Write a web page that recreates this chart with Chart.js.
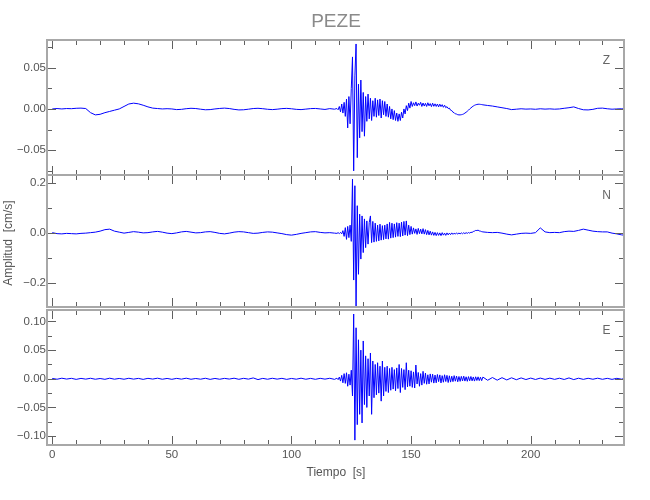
<!DOCTYPE html>
<html>
<head>
<meta charset="utf-8">
<script src="https://cdn.jsdelivr.net/npm/chart.js@4.4.1/dist/chart.umd.min.js"></script>
<style>
body{margin:0;background:#fff}
#fig{position:relative;width:650px;height:500px;overflow:hidden;font-family:'Liberation Sans',Arial,sans-serif}
.caja{position:absolute;left:0;width:650px}
.txt{position:absolute;white-space:pre;color:#555}
</style>
</head>
<body>
<div id="fig">
  <div class="caja" style="top:0px;height:185px"><canvas id="cZ"></canvas></div>
  <div class="caja" style="top:165px;height:152px"><canvas id="cN"></canvas></div>
  <div class="caja" style="top:300px;height:200px"><canvas id="cE"></canvas></div>
  <div class="txt" style="left:236px;top:10px;width:200px;text-align:center;font-size:19px;line-height:22px;color:#8a8a8a">PEZE</div>
  <div class="txt" style="left:-62px;top:235px;width:140px;height:16px;line-height:16px;text-align:center;font-size:12px;transform:rotate(-90deg)">Amplitud  [cm/s]</div>
  <div class="txt" style="left:256px;top:464px;width:160px;line-height:16px;text-align:center;font-size:12px">Tiempo  [s]</div>
</div>
<script>
const tiempo = [
  0,2,4,6,8,10,12,14,16,18,
  20,22,24,26,28,30,32,34,36,38,
  40,42,44,46,48,50,52,54,56,58,
  60,62,64,66,68,70,72,74,76,78,
  80,82,84,86,88,90,92,94,96,98,
  100,102,104,106,108,110,112,114,116,118,
  119,119.5,120,120.5,121,121.5,122,122.5,123,123.5,
  124,124.5,125,125.5,126,126.5,127,127.5,128,128.5,
  129,129.5,130,130.5,131,131.5,132,132.5,133,133.5,
  134,134.5,135,135.5,136,136.5,137,137.5,138,138.5,
  139,139.5,140,140.5,141,141.5,142,142.5,143,143.5,
  144,144.5,145,145.5,146,146.5,147,147.5,148,148.5,
  149,149.5,150,
  150.5,151,151.5,152,152.5,153,153.5,154,154.5,155,
  155.5,156,156.5,157,157.5,158,158.5,159,159.5,160,
  160.5,161,161.5,162,162.5,163,163.5,164,164.5,165,
  165.5,166,166.5,167,167.5,168,168.5,169,169.5,170,
  170.5,171,171.5,172,172.5,173,173.5,174,174.5,175,
  175.5,176,176.5,177,177.5,178,178.5,179,179.5,180,
  182,184,186,188,190,192,194,196,198,200,
  202,204,206,208,210,212,214,216,218,220,
  222,224,226,228,230,232,234,236,238,239
];

const velZ = [
  0.0000,0.0005,0.0000,0.0005,0.0003,0.0008,0.0010,0.0005,-0.0045,-0.0072,
  -0.0065,-0.0045,-0.0030,-0.0015,0.0000,0.0030,0.0060,0.0070,0.0062,0.0045,
  0.0025,0.0010,0.0005,0.0000,0.0003,0.0000,-0.0008,-0.0005,0.0003,0.0008,
  0.0005,-0.0003,-0.0010,-0.0008,0.0000,0.0006,0.0010,0.0005,-0.0005,-0.0012,
  -0.0010,-0.0003,0.0005,0.0008,0.0003,-0.0004,-0.0008,-0.0003,0.0004,0.0007,
  0.0002,-0.0005,-0.0008,-0.0002,0.0004,0.0006,0.0000,-0.0006,0.0004,-0.0003,
  0.0005,-0.0010,0.0030,-0.0035,0.0060,-0.0050,0.0080,-0.0090,0.0120,-0.0230,
  0.0150,-0.0180,0.0250,0.0630,-0.0750,0.0400,0.0787,-0.0590,0.0300,-0.0350,
  0.0350,-0.0275,0.0200,-0.0330,0.0150,-0.0150,0.0180,-0.0120,0.0130,-0.0140,
  0.0100,-0.0090,0.0130,-0.0100,0.0110,-0.0080,0.0120,-0.0110,0.0100,-0.0070,
  0.0090,-0.0090,0.0060,-0.0100,0.0030,-0.0120,0.0000,-0.0130,-0.0020,-0.0140,
  -0.0050,-0.0150,-0.0060,-0.0140,-0.0040,-0.0110,0.0000,-0.0060,0.0040,-0.0020,
  0.0070,0.0010,0.0090,
  0.0030,0.0075,0.0040,0.0085,0.0035,0.0070,0.0045,0.0080,0.0030,0.0072,
  0.0035,0.0068,0.0030,0.0075,0.0038,0.0065,0.0028,0.0070,0.0032,0.0062,
  0.0030,0.0060,0.0025,0.0058,0.0028,0.0052,0.0020,0.0045,0.0015,0.0028,
  0.0005,0.0010,-0.0015,-0.0020,-0.0040,-0.0045,-0.0060,-0.0062,-0.0070,-0.0072,
  -0.0072,-0.0070,-0.0066,-0.0060,-0.0050,-0.0040,-0.0028,-0.0015,0.0000,0.0012,
  0.0025,0.0035,0.0044,0.0050,0.0054,0.0057,0.0057,0.0055,0.0053,0.0050,
  0.0042,0.0035,0.0025,0.0015,0.0005,-0.0008,-0.0003,0.0002,-0.0002,0.0000,
  -0.0004,0.0002,-0.0002,0.0001,-0.0003,0.0000,0.0008,0.0015,0.0025,0.0005,
  -0.0010,-0.0012,-0.0005,0.0008,0.0010,0.0002,-0.0003,0.0000,0.0002,0.0000
];

const velN = [
  0.0000,-0.0040,-0.0050,-0.0030,-0.0040,-0.0050,-0.0030,-0.0020,0.0000,0.0020,
  0.0060,0.0120,0.0140,0.0060,0.0020,-0.0020,0.0010,0.0040,0.0020,-0.0010,
  0.0000,0.0030,0.0050,0.0020,-0.0020,-0.0040,-0.0010,0.0030,0.0050,0.0020,
  -0.0010,0.0000,0.0030,0.0040,0.0010,-0.0030,-0.0050,-0.0020,0.0020,0.0040,
  0.0030,0.0000,-0.0030,-0.0020,0.0010,0.0030,0.0020,-0.0010,-0.0040,-0.0080,
  -0.0100,-0.0070,-0.0030,0.0000,0.0030,0.0040,0.0010,-0.0010,0.0000,-0.0020,
  -0.0030,0.0000,-0.0040,0.0010,-0.0050,0.0080,-0.0150,0.0200,-0.0270,0.0250,
  -0.0200,0.0300,-0.0350,0.2150,-0.1900,0.1880,-0.2980,0.1080,-0.1670,0.0740,
  -0.1060,0.0670,-0.0800,0.0550,-0.0600,0.0470,-0.0460,0.0400,0.0670,-0.0400,
  0.0450,-0.0380,0.0380,-0.0350,0.0300,-0.0330,0.0340,-0.0300,0.0280,-0.0280,
  0.0300,-0.0250,0.0350,-0.0260,0.0410,-0.0220,0.0380,-0.0200,0.0350,-0.0180,
  0.0400,-0.0150,0.0380,-0.0160,0.0420,-0.0130,0.0450,-0.0100,0.0470,-0.0120,
  0.0300,-0.0080,0.0250,
  -0.0060,0.0190,-0.0030,0.0150,-0.0070,0.0170,-0.0040,0.0140,-0.0050,0.0160,
  -0.0060,0.0120,-0.0080,0.0090,-0.0090,0.0060,-0.0100,0.0030,-0.0110,0.0010,
  -0.0120,0.0000,-0.0110,-0.0010,-0.0120,0.0000,-0.0100,-0.0020,-0.0110,-0.0010,
  -0.0090,-0.0020,-0.0080,-0.0010,-0.0070,-0.0020,-0.0060,-0.0010,-0.0055,-0.0015,
  -0.0050,-0.0010,-0.0045,-0.0005,-0.0040,0.0000,-0.0030,0.0005,-0.0020,0.0015,
  0.0010,0.0045,0.0060,0.0090,0.0085,0.0100,0.0070,0.0060,0.0040,0.0030,
  0.0010,0.0000,0.0010,-0.0020,-0.0060,-0.0090,-0.0060,-0.0030,-0.0020,-0.0030,
  0.0000,0.0190,0.0030,0.0000,0.0010,0.0000,0.0040,0.0060,0.0050,0.0090,
  0.0140,0.0100,0.0060,0.0040,0.0030,0.0030,-0.0020,-0.0050,-0.0090,-0.0100
];

const velE = [
  0.0006,-0.0008,0.0010,-0.0005,0.0008,-0.0010,0.0007,-0.0006,0.0009,-0.0008,
  0.0005,-0.0009,0.0010,-0.0007,0.0006,-0.0008,0.0009,-0.0006,0.0007,-0.0010,
  0.0008,-0.0005,0.0010,-0.0008,0.0006,-0.0009,0.0007,-0.0006,0.0010,-0.0008,
  0.0005,-0.0007,0.0009,-0.0010,0.0006,-0.0008,0.0007,-0.0005,0.0010,-0.0009,
  0.0008,-0.0006,0.0015,-0.0014,0.0007,-0.0008,0.0009,-0.0006,0.0008,-0.0010,
  0.0006,-0.0007,0.0010,-0.0008,0.0007,-0.0009,0.0008,-0.0006,0.0009,-0.0010,
  0.0010,-0.0015,0.0030,-0.0040,0.0060,-0.0070,0.0090,-0.0080,0.0105,-0.0130,
  0.0080,-0.0110,0.0150,-0.0300,0.1130,-0.1070,0.0890,-0.0800,0.0680,-0.0620,
  0.0500,-0.0770,0.0660,-0.0450,0.0400,-0.0500,0.0350,-0.0300,0.0450,-0.0620,
  0.0310,-0.0330,0.0250,-0.0280,0.0280,-0.0250,0.0220,-0.0390,0.0310,-0.0300,
  0.0200,-0.0220,0.0220,-0.0240,0.0180,-0.0200,0.0200,-0.0180,0.0160,-0.0210,
  0.0190,-0.0170,0.0250,-0.0240,0.0180,-0.0150,0.0160,-0.0190,0.0280,-0.0140,
  0.0150,-0.0130,0.0140,
  -0.0150,0.0120,-0.0160,0.0240,-0.0090,0.0110,-0.0130,0.0090,-0.0110,0.0130,
  -0.0080,0.0100,-0.0095,0.0070,-0.0090,0.0085,-0.0060,0.0080,-0.0075,0.0065,
  -0.0070,0.0075,-0.0050,0.0068,-0.0072,0.0055,-0.0060,0.0070,-0.0048,0.0060,
  -0.0065,0.0052,-0.0058,0.0045,-0.0050,0.0055,-0.0042,0.0048,-0.0052,0.0040,
  -0.0045,0.0042,-0.0038,0.0046,-0.0040,0.0035,-0.0044,0.0038,-0.0035,0.0040,
  -0.0036,0.0032,-0.0040,0.0035,-0.0030,0.0034,-0.0032,0.0028,-0.0033,0.0030,
  -0.0026,0.0022,-0.0024,0.0019,-0.0020,0.0017,-0.0016,0.0015,-0.0013,0.0012,
  -0.0012,0.0012,-0.0010,0.0011,-0.0010,0.0010,-0.0012,0.0015,-0.0014,0.0010,
  -0.0010,0.0009,-0.0008,0.0010,-0.0009,0.0008,-0.0010,0.0008,-0.0007,0.0005
];

const ticksX = [0, 50, 100, 150, 200];
const ticksZ = [-0.05, 0, 0.05];
const ticksN = [-0.2, 0, 0.2];
const ticksE = [-0.10, -0.05, 0, 0.05, 0.10];

const fuente = "'Liberation Sans', Arial, sans-serif";

// marco con marcas hacia dentro en los cuatro lados + etiqueta de componente
const marco = {
  id: 'marco',
  afterDraw(chart, args, o) {
    const {ctx, chartArea: a, scales: {x, y}} = chart;
    ctx.save();
    ctx.strokeStyle = '#606060';
    ctx.lineWidth = 1;
    ctx.beginPath();
    for (let v = 0; v <= 230; v += 10) {
      const px = Math.round(x.getPixelForValue(v)) + 0.5;
      const l = v % 50 === 0 ? 9 : 5;
      ctx.moveTo(px, a.top); ctx.lineTo(px, a.top + l);
      ctx.moveTo(px, a.bottom); ctx.lineTo(px, a.bottom - l);
    }
    const paso = o.menor;
    for (let k = Math.ceil(y.min / paso - 1e-6); k * paso <= y.max + 1e-9; k++) {
      const v = k * paso;
      const py = Math.round(y.getPixelForValue(v)) + 0.5;
      const l = k % 2 === 0 ? 9 : 5;
      ctx.moveTo(a.left, py); ctx.lineTo(a.left + l, py);
      ctx.moveTo(a.right, py); ctx.lineTo(a.right - l, py);
    }
    ctx.stroke();
    ctx.strokeStyle = '#a8a8a8';
    ctx.lineWidth = 2;
    ctx.strokeRect(a.left, a.top, a.right - a.left, a.bottom - a.top);
    ctx.fillStyle = '#666';
    ctx.font = '12px ' + fuente;
    ctx.textAlign = 'center';
    ctx.textBaseline = 'middle';
    ctx.fillText(o.etiqueta, a.right - 17.5, a.top + 21);
    ctx.restore();
  }
};

function panel(id, valores, ticksY, yMin, yMax, menor, dec, etiqueta, conX, pad) {
  const ejeX = {
    type: 'linear', min: -2.2, max: 239, display: conX,
    grid: {display: false, drawTicks: false}, border: {display: false},
    afterBuildTicks: s => { s.ticks = ticksX.map(v => ({value: v})); },
    ticks: {padding: 3, color: '#555', autoSkip: false, maxRotation: 0,
            font: {family: fuente, size: 11.5}, callback: v => String(v)}
  };
  if (conX) ejeX.afterFit = s => { s.height = 45; };
  new Chart(document.getElementById(id), {
    type: 'line',
    data: {
      datasets: [{
        data: tiempo.map((t, i) => ({x: t, y: valores[i]})),
        borderColor: '#0000ff',
        borderWidth: 1,
        pointRadius: 0,
        tension: 0
      }]
    },
    options: {
      responsive: true,
      maintainAspectRatio: false,
      animation: false,
      events: [],
      layout: {padding: {left: 0, right: 26, top: pad[0], bottom: pad[1]}},
      plugins: {
        legend: {display: false},
        tooltip: {enabled: false},
        marco: {menor: menor, etiqueta: etiqueta}
      },
      scales: {
        x: ejeX,
        y: {
          min: yMin, max: yMax,
          grid: {display: false, drawTicks: false}, border: {display: false},
          afterBuildTicks: s => { s.ticks = ticksY.map(v => ({value: v})); },
          afterFit: s => { s.width = 47; },
          ticks: {padding: 1, color: '#555', autoSkip: false,
                  font: {family: fuente, size: 11.5},
                  callback: v => (v < 0 ? '\u2212' : '') + Math.abs(v).toFixed(dec)}
        }
      }
    },
    plugins: [marco]
  });
}

panel('cZ', velZ, ticksZ, -0.080, 0.0835, 0.025, 2, 'Z', false, [40, 10]);
panel('cN', velN, ticksN, -0.298, 0.231, 0.1, 1, 'N', false, [10, 10]);
panel('cE', velE, ticksE, -0.1155, 0.120, 0.025, 2, 'E', true, [10, 10]);
</script>
</body>
</html>
